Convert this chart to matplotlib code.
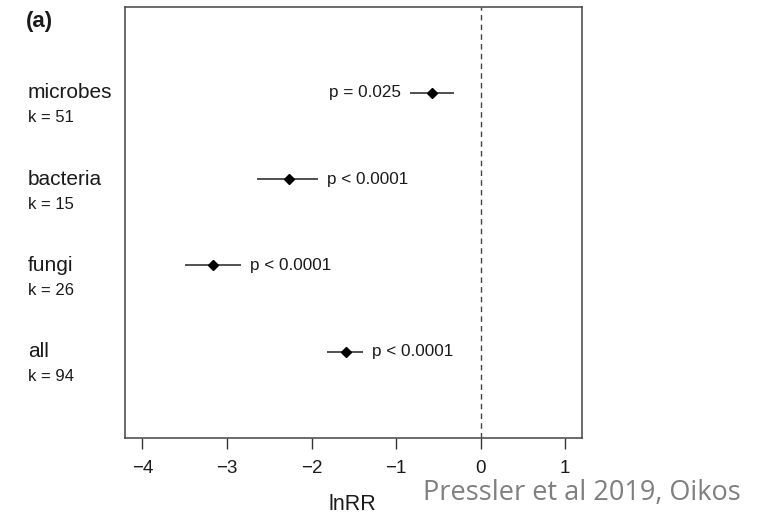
import matplotlib
matplotlib.use("Agg")
import matplotlib.pyplot as plt
import matplotlib.transforms as mtransforms

# Effect sizes (lnRR) with 95% confidence intervals, top to bottom
groups = ["microbes", "bacteria", "fungi", "all"]
k_counts = [51, 15, 26, 94]
estimates = [-0.57, -2.27, -3.16, -1.59]
ci_low = [-0.84, -2.65, -3.50, -1.82]
ci_high = [-0.31, -1.92, -2.83, -1.39]
p_labels = ["p = 0.025", "p < 0.0001", "p < 0.0001", "p < 0.0001"]
p_side = ["left", "right", "right", "right"]
x_ticks = [-4, -3, -2, -1, 0, 1]

plt.rcParams["font.family"] = ["Liberation Sans", "DejaVu Sans"]
plt.rcParams["axes.unicode_minus"] = True

W, H = 761, 523
fig = plt.figure(figsize=(W / 100, H / 100), dpi=100)
ax = fig.add_axes([125 / W, 1 - 438 / H, 456.7 / W, 431.3 / H])

ink = "#1a1a1a"
ypos = [4, 3, 2, 1]

ax.axvline(0, color="#444444", lw=1.0, ls=(0, (4, 3)), zorder=1)

for y, est, lo, hi, lab, side in zip(ypos, estimates, ci_low, ci_high, p_labels, p_side):
    ax.plot([lo, hi], [y, y], color="#222222", lw=1.1, solid_capstyle="butt", zorder=2)
    ax.plot(est, y, marker="D", ms=5.5, color="black", zorder=3)
    if side == "left":
        ax.annotate(lab, xy=(lo, y), xytext=(-9, 0), textcoords="offset pixels",
                    ha="right", va="center", fontsize=12.3, color=ink)
    else:
        ax.annotate(lab, xy=(hi, y), xytext=(9, 0), textcoords="offset pixels",
                    ha="left", va="center", fontsize=12.3, color=ink)

ax.set_xlim(-4.205, 1.194)
ax.set_ylim(0, 5)
ax.set_yticks([])
ax.set_xticks(x_ticks)
ax.set_xticklabels([str(t).replace("-", "\u2212") for t in x_ticks])
ax.tick_params(axis="x", length=8, width=1.0, color="#333333", pad=8,
               labelsize=13.5, labelcolor=ink)
for s in ax.spines.values():
    s.set_color("#444444")
    s.set_linewidth(1.1)

# Group names and study counts left of the panel
blend = mtransforms.blended_transform_factory(fig.transFigure, ax.transData)
for y, name, k in zip(ypos, groups, k_counts):
    ax.annotate(name, xy=(28 / W, y), xycoords=blend, xytext=(0, -5.5),
                textcoords="offset pixels", ha="left", va="baseline",
                fontsize=15, color=ink, annotation_clip=False)
    ax.annotate(f"k = {k}", xy=(28 / W, y), xycoords=blend, xytext=(0, -29.5),
                textcoords="offset pixels", ha="left", va="baseline",
                fontsize=12, color=ink, annotation_clip=False)

fig.text(26 / W, 1 - 27 / H, "(a)", fontsize=16, fontweight="bold",
         ha="left", va="baseline", color=ink)
fig.text(352 / W, 1 - 510 / H, "lnRR", fontsize=15.5, ha="center",
         va="baseline", color=ink)
fig.text(423 / W, 1 - 500 / H, "Pressler et al 2019, Oikos", fontsize=19.5,
         family=["Open Sans", "DejaVu Sans"], color="#7f7f7f",
         ha="left", va="baseline")

fig.savefig("out.png", dpi=100)
